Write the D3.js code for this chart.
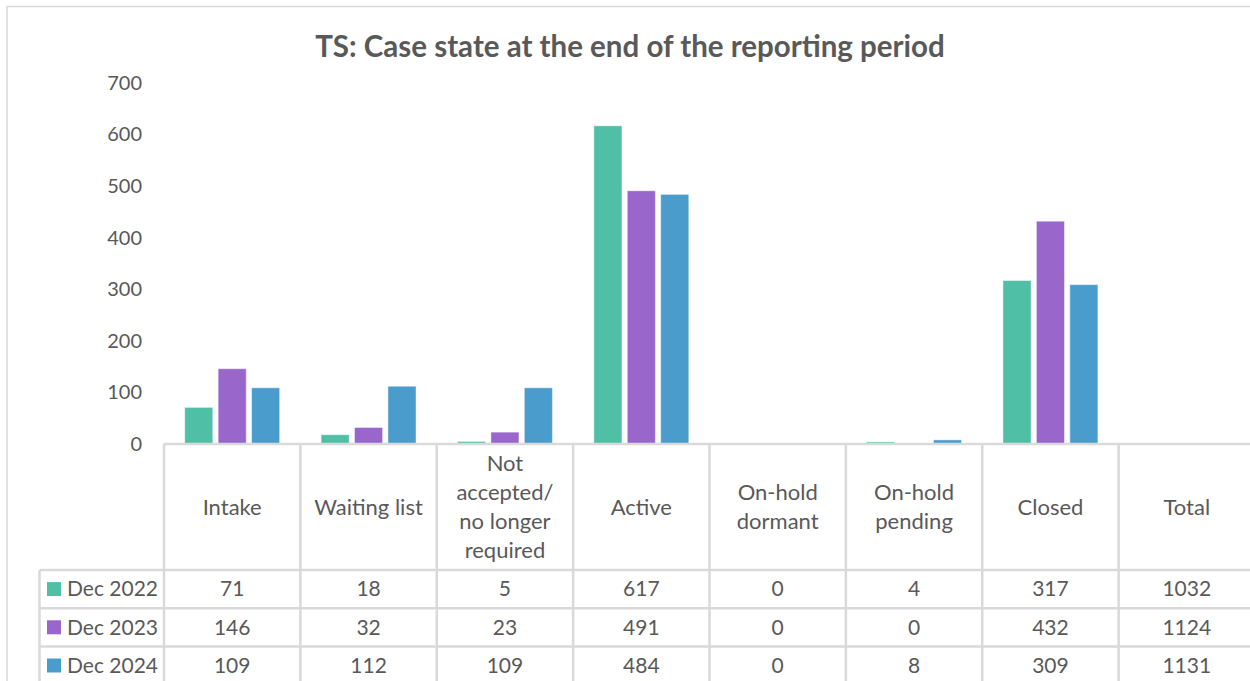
<!DOCTYPE html>
<html>
<head>
<meta charset="utf-8">
<script src="https://cdn.jsdelivr.net/npm/d3@7"></script>
<style>
  html, body { margin: 0; padding: 0; background: #fff; }
  svg { display: block; font-family: Lato, "Open Sans", sans-serif; }
</style>
</head>
<body>
<svg id="chart" width="1250" height="681"></svg>
<script>
// Case states (table columns); "\n" marks a line break in the header cell
const categories = [
  "Intake",
  "Waiting list",
  "Not\naccepted/\nno longer\nrequired",
  "Active",
  "On-hold\ndormant",
  "On-hold\npending",
  "Closed",
  "Total"
];
// Columns that are drawn as bars (Total appears in the table only)
const barCategories = categories.slice(0, 7);

const seriesNames = ["Dec 2022", "Dec 2023", "Dec 2024"];
const dec2022 = [71, 18, 5, 617, 0, 4, 317, 1032];
const dec2023 = [146, 32, 23, 491, 0, 0, 432, 1124];
const dec2024 = [109, 112, 109, 484, 0, 8, 309, 1131];
const seriesColors = ["#4fbfa5", "#9966cc", "#4a9ccd"];

const yTicks = [0, 100, 200, 300, 400, 500, 600, 700];
const title = "TS: Case state at the end of the reporting period";

const seriesValues = [dec2022, dec2023, dec2024];
const textColor = "#595959";
const lineColor = "#d9d9d9";

const svg = d3.select("#chart");

// Outer chart frame
svg.append("path")
  .attr("d", "M7,700 V6.5 H1300")
  .attr("fill", "none")
  .attr("stroke", lineColor)
  .attr("stroke-width", 1.5);

// Title
svg.append("text")
  .attr("x", 630)
  .attr("y", 57)
  .attr("text-anchor", "middle")
  .attr("font-size", 29.5)
  .attr("font-weight", 700)
  .attr("fill", textColor)
  .text(title);

// Scales
const plotLeft = 164, plotRight = 1255;
const x = d3.scaleBand()
  .domain(categories)
  .range([plotLeft, plotRight])
  .paddingInner(0)
  .paddingOuter(0);

const xs = d3.scaleBand()
  .domain(seriesNames)
  .range([0, x.bandwidth()])
  .paddingInner(0.16)
  .paddingOuter(0.62);

const y = d3.scaleLinear()
  .domain([0, 700])
  .range([444, 83]);

// Value axis (labels only)
const yAxis = d3.axisLeft(y)
  .tickValues(yTicks)
  .tickSize(0)
  .tickPadding(0);
const yg = svg.append("g")
  .attr("transform", "translate(142,0)")
  .call(yAxis);
yg.select(".domain").remove();
yg.selectAll("text")
  .attr("font-family", "Lato, 'Open Sans', sans-serif")
  .attr("font-size", 20)
  .attr("fill", textColor);

// Bars
const groups = svg.append("g").selectAll("g")
  .data(barCategories)
  .join("g")
  .attr("transform", d => `translate(${x(d)},0)`);

groups.selectAll("rect")
  .data((d, i) => seriesNames.map((s, j) => ({ s, v: seriesValues[j][i], c: seriesColors[j] })))
  .join("rect")
  .attr("x", d => xs(d.s))
  .attr("width", xs.bandwidth())
  .attr("y", d => y(d.v))
  .attr("height", d => y(0) - y(d.v))
  .attr("fill", d => d.c)
  .attr("stroke", "#ffffff")
  .attr("stroke-opacity", 0.45)
  .attr("stroke-width", 1);

// Data table
const headerTop = 444, headerBottom = 570;
const rowH = 38.2;
const tableBottom = 700;
const legendLeft = 39.5;
const grid = svg.append("g")
  .attr("stroke", lineColor)
  .attr("stroke-width", 2.5)
  .attr("fill", "none");

// category axis line / top of table
grid.append("line")
  .attr("x1", plotLeft).attr("x2", 1260)
  .attr("y1", headerTop).attr("y2", headerTop);
// row lines
[0, 1, 2].forEach(r => {
  grid.append("line")
    .attr("x1", legendLeft).attr("x2", 1260)
    .attr("y1", headerBottom + r * rowH).attr("y2", headerBottom + r * rowH);
});
// column lines
categories.forEach(c => {
  grid.append("line")
    .attr("x1", x(c)).attr("x2", x(c))
    .attr("y1", headerTop).attr("y2", tableBottom);
});
grid.append("line")
  .attr("x1", legendLeft).attr("x2", legendLeft)
  .attr("y1", headerBottom).attr("y2", tableBottom);

// Header labels
const headerLabels = svg.append("g")
  .attr("font-size", 22)
  .attr("fill", textColor)
  .attr("text-anchor", "middle");
categories.forEach(c => {
  const lines = c.split("\n");
  const lh = 29;
  const cy = (headerTop + headerBottom) / 2;
  const t = headerLabels.append("text")
    .attr("x", x(c) + x.bandwidth() / 2)
    .attr("y", cy - (lines.length - 1) * lh / 2);
  lines.forEach((ln, i) => {
    t.append("tspan")
      .attr("x", x(c) + x.bandwidth() / 2)
      .attr("dy", i === 0 ? "0.35em" : lh)
      .text(ln);
  });
});

// Value rows with legend keys
seriesNames.forEach((s, j) => {
  const cy = headerBottom + j * rowH + rowH / 2;
  svg.append("rect")
    .attr("x", 47).attr("y", cy - 7)
    .attr("width", 14).attr("height", 14)
    .attr("fill", seriesColors[j]);
  svg.append("text")
    .attr("x", 67).attr("y", cy)
    .attr("dy", "0.35em")
    .attr("font-size", 21)
    .attr("fill", textColor)
    .text(s);
  svg.append("g").selectAll("text")
    .data(categories)
    .join("text")
    .attr("x", d => x(d) + x.bandwidth() / 2)
    .attr("y", cy)
    .attr("dy", "0.35em")
    .attr("text-anchor", "middle")
    .attr("font-size", 21)
    .attr("fill", textColor)
    .text((d, i) => seriesValues[j][i]);
});
</script>
</body>
</html>
